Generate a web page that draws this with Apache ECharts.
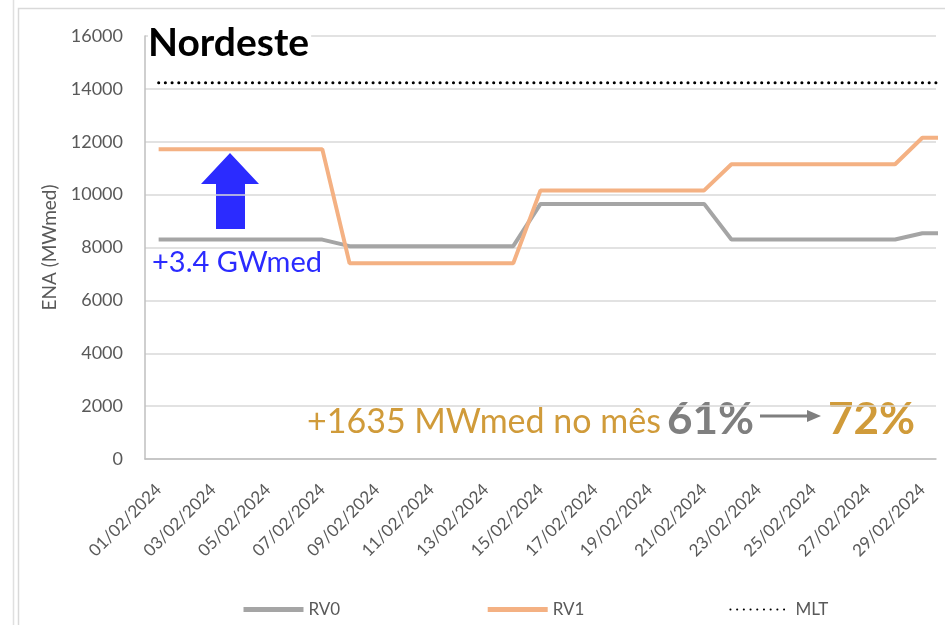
<!DOCTYPE html>
<html>
<head>
<meta charset="utf-8">
<script src="https://cdn.jsdelivr.net/npm/echarts@6/dist/echarts.min.js"></script>
<style>
  html, body { margin: 0; padding: 0; background: #fff; }
  #main { width: 945px; height: 625px; }
</style>
</head>
<body>
<div id="main"></div>
<script>
// dias do mês (o último ponto fica fora da área do gráfico, como no original)
var dias = ['01/02/2024','02/02/2024','03/02/2024','04/02/2024','05/02/2024','06/02/2024','07/02/2024',
  '08/02/2024','09/02/2024','10/02/2024','11/02/2024','12/02/2024','13/02/2024','14/02/2024',
  '15/02/2024','16/02/2024','17/02/2024','18/02/2024','19/02/2024','20/02/2024','21/02/2024',
  '22/02/2024','23/02/2024','24/02/2024','25/02/2024','26/02/2024','27/02/2024','28/02/2024',
  '29/02/2024','01/03/2024']

var rv0 = [8300,8300,8300,8300,8300,8300,8300,
  8050,8050,8050,8050,8050,8050,8050,
  9650,9650,9650,9650,9650,9650,9650,
  8300,8300,8300,8300,8300,8300,8300,
  8540,8540]

var rv1 = [11720,11720,11720,11720,11720,11720,11720,
  7400,7400,7400,7400,7400,7400,7400,
  10160,10160,10160,10160,10160,10160,10160,
  11150,11150,11150,11150,11150,11150,11150,
  12150,12150]

var mlt = [14230,14230,14230,14230,14230,14230,14230,14230,14230,14230,
  14230,14230,14230,14230,14230,14230,14230,14230,14230,14230,
  14230,14230,14230,14230,14230,14230,14230,14230,14230,14230]

var yTicks = [0, 16000, 2000]  // min, max, intervalo

var fonte = 'Lato, "Liberation Sans", sans-serif'
var cinza = '#595959'

var chart = echarts.init(document.getElementById('main'), null, {renderer: 'canvas'})

var option = {
  backgroundColor: '#fff',
  animation: false,
  textStyle: { fontFamily: fonte },
  grid: { left: 145, right: 9, top: 36, bottom: 166, containLabel: false },
  legend: {
    left: 236,
    top: 596,
    itemWidth: 60,
    itemHeight: 14,
    itemGap: 145,
    itemStyle: { opacity: 0 },
    textStyle: { color: cinza, fontSize: 17, fontFamily: fonte },
    data: [
      { name: 'RV0', lineStyle: { width: 5 } },
      { name: 'RV1', lineStyle: { width: 5 } },
      { name: 'MLT' }
    ]
  },
  xAxis: {
    type: 'category',
    data: dias,
    max: 28,
    boundaryGap: true,
    axisLine: { lineStyle: { color: '#bfbfbf', width: 1.5 } },
    axisTick: { show: false },
    axisLabel: {
      interval: 1,
      rotate: 45,
      margin: 28,
      color: cinza,
      fontSize: 17,
      fontFamily: fonte
    },
    splitLine: { show: false }
  },
  yAxis: {
    type: 'value',
    min: yTicks[0],
    max: yTicks[1],
    interval: yTicks[2],
    name: 'ENA (MWmed)',
    nameLocation: 'middle',
    nameGap: 86,
    nameTextStyle: { color: cinza, fontSize: 19, fontFamily: fonte },
    axisLine: { show: true, lineStyle: { color: '#bfbfbf', width: 1.5 } },
    axisTick: { show: false },
    axisLabel: { color: cinza, fontSize: 18, margin: 22, fontFamily: fonte, formatter: function (v) { return String(v) } },
    splitLine: { lineStyle: { color: '#d9d9d9', width: 1.5 } }
  },
  series: [
    {
      name: 'RV0', type: 'line', data: rv0, symbol: 'none',
      lineStyle: { color: '#a5a5a5', width: 4 },
      itemStyle: { color: '#a5a5a5' }
    },
    {
      name: 'RV1', type: 'line', data: rv1, symbol: 'none',
      lineStyle: { color: '#f4b183', width: 4 },
      itemStyle: { color: '#f4b183' }
    },
    {
      name: 'MLT', type: 'line', data: mlt, symbol: 'none',
      lineStyle: { color: '#000', width: 3, type: [0.1, 6.6], cap: 'round' },
      itemStyle: { color: '#000' }
    }
  ],
  graphic: [
    // moldura do gráfico
    { type: 'line', shape: { x1: 13.5, y1: 0, x2: 13.5, y2: 625 }, style: { stroke: '#e0e0e0', lineWidth: 1.5 }, silent: true },
    { type: 'rect', shape: { x: 18.5, y: 8.5, width: 940, height: 640 }, style: { fill: null, stroke: '#d9d9d9', lineWidth: 1.5 }, silent: true },
    // título
    { type: 'text', left: 148, top: 24, z: 100, style: { text: 'Nordeste', fill: '#000', font: 'bold 39px ' + fonte, backgroundColor: '#fff', padding: [0, 2, 0, 0] } },
    // seta azul
    { type: 'polygon', shape: { points: [[230, 153], [259, 184], [245, 184], [245, 229], [216, 229], [216, 184], [201, 184]] },
      style: { fill: '#2b2bff' } },
    { type: 'text', left: 152, top: 248, style: { text: '+3.4 GWmed', fill: '#2b2bff', font: '29px ' + fonte } },
    // anotação do mês
    { type: 'text', left: 307, top: 405, style: { text: '+1635 MWmed no mês', fill: '#d09b3a', font: '34px ' + fonte } },
    { type: 'text', left: 667, top: 398, style: { text: '61%', fill: '#7f7f7f', font: 'bold 44px ' + fonte } },
    { type: 'line', shape: { x1: 760, y1: 416, x2: 808, y2: 416 }, style: { stroke: '#7f7f7f', lineWidth: 3 } },
    { type: 'polygon', shape: { points: [[807, 410], [821, 416], [807, 422]] }, style: { fill: '#7f7f7f' } },
    { type: 'text', left: 828, top: 398, style: { text: '72%', fill: '#d09b3a', font: 'bold 44px ' + fonte } }
  ]
}

chart.setOption(option)
</script>
</body>
</html>
